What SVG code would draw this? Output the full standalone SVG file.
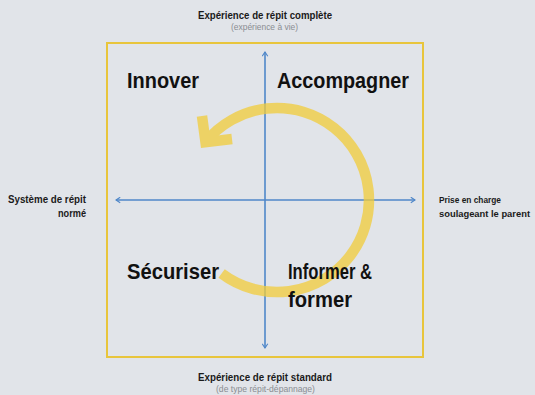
<svg xmlns="http://www.w3.org/2000/svg" width="535" height="395" viewBox="0 0 535 395">
<defs>
<style>
.bg{fill:#e1e4e9}
.frame{fill:none;stroke:#e8c53c;stroke-width:2}
.axis{fill:none;stroke:#4f87c9;stroke-width:1.6}
.big{font-family:"Liberation Sans",Arial,sans-serif;font-weight:bold;font-size:22px;fill:#111}
.lbl{font-family:"Liberation Sans",Arial,sans-serif;font-weight:bold;font-size:10.5px;fill:#1a1a1a}
.lbl2{font-family:"Liberation Sans",Arial,sans-serif;font-weight:bold;font-size:9.5px;fill:#1a1a1a}
.sub{font-family:"Liberation Sans",Arial,sans-serif;font-size:8.5px;fill:#8a8d92}
.cyc{fill:none;stroke:#f2cc3a;stroke-width:10.5}
</style>
<marker id="ah" viewBox="0 0 10 10" refX="8" refY="5" markerWidth="7" markerHeight="7" markerUnits="userSpaceOnUse" orient="auto-start-reverse">
<path d="M2,1 L8,5 L2,9" fill="none" stroke="#4f87c9" stroke-width="1.6"/>
</marker>
</defs>
<rect class="bg" x="0" y="0" width="535" height="395"/>
<g id="frame"><rect class="frame" x="107" y="43" width="316" height="314"/></g>
<g id="connectors">
<line class="axis" x1="116" y1="200" x2="415" y2="200" marker-start="url(#ah)" marker-end="url(#ah)"/>
<line class="axis" x1="265" y1="52" x2="265" y2="348" marker-start="url(#ah)" marker-end="url(#ah)"/>
</g>
<g id="cycle" opacity="0.75">
<path class="cyc" d="M221.6,273.5 A92,92 0 1 0 205.5,142.1"/>
<path class="cyc" d="M202,116 L205.5,142.1 L232,139" stroke-linejoin="miter" stroke-miterlimit="10"/>
</g>
<g id="innover"><text class="big" x="127" y="88" textLength="72" lengthAdjust="spacingAndGlyphs">Innover</text></g>
<g id="accompagner"><text class="big" x="277" y="88" textLength="132" lengthAdjust="spacingAndGlyphs">Accompagner</text></g>
<g id="securiser"><text class="big" x="127" y="279" textLength="92" lengthAdjust="spacingAndGlyphs">Sécuriser</text></g>
<g id="informer"><text class="big" x="288" y="279" textLength="84" lengthAdjust="spacingAndGlyphs">Informer &amp;</text>
<text class="big" x="288" y="307" textLength="64" lengthAdjust="spacingAndGlyphs">former</text></g>
<g id="top">
<text class="lbl" x="198" y="19" textLength="134" lengthAdjust="spacingAndGlyphs">Expérience de répit complète</text>
<text class="sub" x="231" y="30" textLength="67" lengthAdjust="spacingAndGlyphs">(expérience à vie)</text>
</g>
<g id="bottom">
<text class="lbl" x="198" y="381" textLength="134" lengthAdjust="spacingAndGlyphs">Expérience de répit standard</text>
<text class="sub" x="216" y="392" textLength="99" lengthAdjust="spacingAndGlyphs">(de type répit-dépannage)</text>
</g>
<g id="left">
<text class="lbl" x="8" y="203" textLength="78" lengthAdjust="spacingAndGlyphs">Système de répit</text>
<text class="lbl" x="58" y="217" textLength="28" lengthAdjust="spacingAndGlyphs">normé</text>
</g>
<g id="right">
<text class="lbl2" x="439" y="203" textLength="62" lengthAdjust="spacingAndGlyphs">Prise en charge</text>
<text class="lbl2" x="439" y="217" textLength="91" lengthAdjust="spacingAndGlyphs">soulageant le parent</text>
</g>
</svg>
